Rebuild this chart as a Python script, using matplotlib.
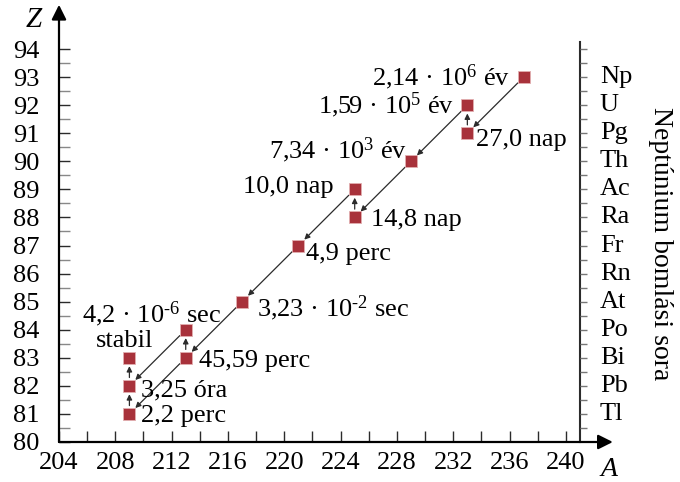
import matplotlib
matplotlib.use("Agg")
import matplotlib.pyplot as plt
import numpy as np

plt.rcParams["font.family"] = ["Liberation Serif", "DejaVu Serif"]
plt.rcParams["mathtext.fontset"] = "custom"
plt.rcParams["mathtext.rm"] = "Liberation Serif"
plt.rcParams["mathtext.it"] = "Liberation Serif:italic"

# nuclides of the neptunium series: mass number A, atomic number Z
mass_num = [237, 233, 233, 229, 225, 225, 221, 217, 213, 213, 209, 209, 209]
atomic_num = [93, 92, 91, 90, 89, 88, 87, 85, 84, 83, 83, 82, 81]
half_lives = ["2,14 · $10^{6}$ év", "1,59 · $10^{5}$ év", "27,0 nap",
              "7,34 · $10^{3}$ év", "10,0 nap", "14,8 nap", "4,9 perc",
              "3,23 · $10^{\\text{-}2}$ sec", "4,2 · $10^{\\text{-}6}$ sec", "45,59 perc",
              "stabil", "3,25 óra", "2,2 perc"]
# text offsets (pixels) and alignment for each half-life label
label_off = [(-14, 0), (-13, 0), (9, -7), (-4, 11), (-21, 2), (16, -3), (8, -8),
             (15, -7), (35, 16), (13, -3), (-5, 17), (12, -5), (12, -2)]
label_ha = ["right", "right", "left", "right", "right", "left", "left",
            "left", "right", "left", "center", "left", "left"]

# decays: (from index, to index)
decays = [(0, 2), (2, 1), (1, 3), (3, 5), (5, 4), (4, 6), (6, 7), (7, 9),
          (9, 8), (9, 12), (8, 11), (12, 11), (11, 10)]

elements = ["Tl", "Pb", "Bi", "Po", "At", "Rn", "Fr", "Ra", "Ac", "Th", "Pg", "U", "Np"]
element_z = list(range(81, 94))

fs = 19
dark = "#2b2b2b"

fig = plt.figure(figsize=(6.8, 4.82), dpi=100)
ax = fig.add_axes([59 / 680, 40 / 482, 521 / 680, 400 / 482])
ax.set_xlim(204, 241)
ax.set_ylim(80, 94.25)

for s in ["top", "left", "bottom"]:
    ax.spines[s].set_visible(False)
ax.spines["right"].set_color(dark)
ax.spines["right"].set_linewidth(1.5)

# axis lines with arrows
ax.annotate("", xy=(0, 1.093), xytext=(0, 0), xycoords="axes fraction",
            arrowprops=dict(arrowstyle="-|>", color="black", lw=1.6,
                            mutation_scale=22, shrinkA=0, shrinkB=0), annotation_clip=False)
ax.annotate("", xy=(1.063, 0), xytext=(0, 0), xycoords="axes fraction",
            arrowprops=dict(arrowstyle="-|>", color="black", lw=1.6,
                            mutation_scale=22, shrinkA=0, shrinkB=0), annotation_clip=False)

ax.set_xticks(np.arange(204, 241, 4))
ax.set_xticks(np.arange(206, 241, 4), minor=True)
ax.set_yticks(np.arange(80, 95, 1))
ax.set_yticks(np.arange(80.5, 94.5, 1), minor=True)
ax.tick_params(axis="x", which="both", direction="in", length=8, width=1, color=dark,
               labelsize=fs, pad=7)
ax.tick_params(axis="y", which="both", direction="in", length=8, width=1, color="#888888",
               labelsize=fs, pad=14)
ax.tick_params(axis="y", which="major", color=dark)

# right-hand tick marks
ax2 = ax.twinx()
ax2.set_ylim(80, 94.25)
for s in ["top", "left", "bottom", "right"]:
    ax2.spines[s].set_visible(False)
ax2.set_yticks(np.arange(80.5, 94.5, 0.5))
ax2.tick_params(axis="y", direction="out", length=5, width=1, color="#777777", labelright=False)

# decay arrows
for i, j in decays:
    ax.annotate("", xy=(mass_num[j], atomic_num[j]), xytext=(mass_num[i], atomic_num[i]),
                arrowprops=dict(arrowstyle="-|>", color=dark, lw=0.9, mutation_scale=8,
                                shrinkA=6, shrinkB=6), zorder=2)

ax.plot(mass_num, atomic_num, "s", ms=8.8, color="#a8323b", mec="#e2aeb0", mew=0.6,
        ls="none", zorder=3, clip_on=False)

for a, z, t, off, ha in zip(mass_num, atomic_num, half_lives, label_off, label_ha):
    ax.annotate(t, xy=(a, z), xytext=off, textcoords="offset pixels", ha=ha, va="center",
                fontsize=fs, zorder=4)

for el, z in zip(elements, element_z):
    ax.text(1.038, z, el, transform=ax.get_yaxis_transform(), ha="left", va="center",
            fontsize=fs)

ax.text(1.154, 0.495, "Neptúnium bomlási sora", transform=ax.transAxes, rotation=-90,
        ha="center", va="center", fontsize=20)
ax.text(-0.048, 1.055, "Z", transform=ax.transAxes, ha="center", va="center",
        fontsize=fs + 2, style="italic")
ax.text(1.056, -0.07, "A", transform=ax.transAxes, ha="center", va="center",
        fontsize=fs + 1, style="italic")

fig.savefig("out.png", dpi=100)
